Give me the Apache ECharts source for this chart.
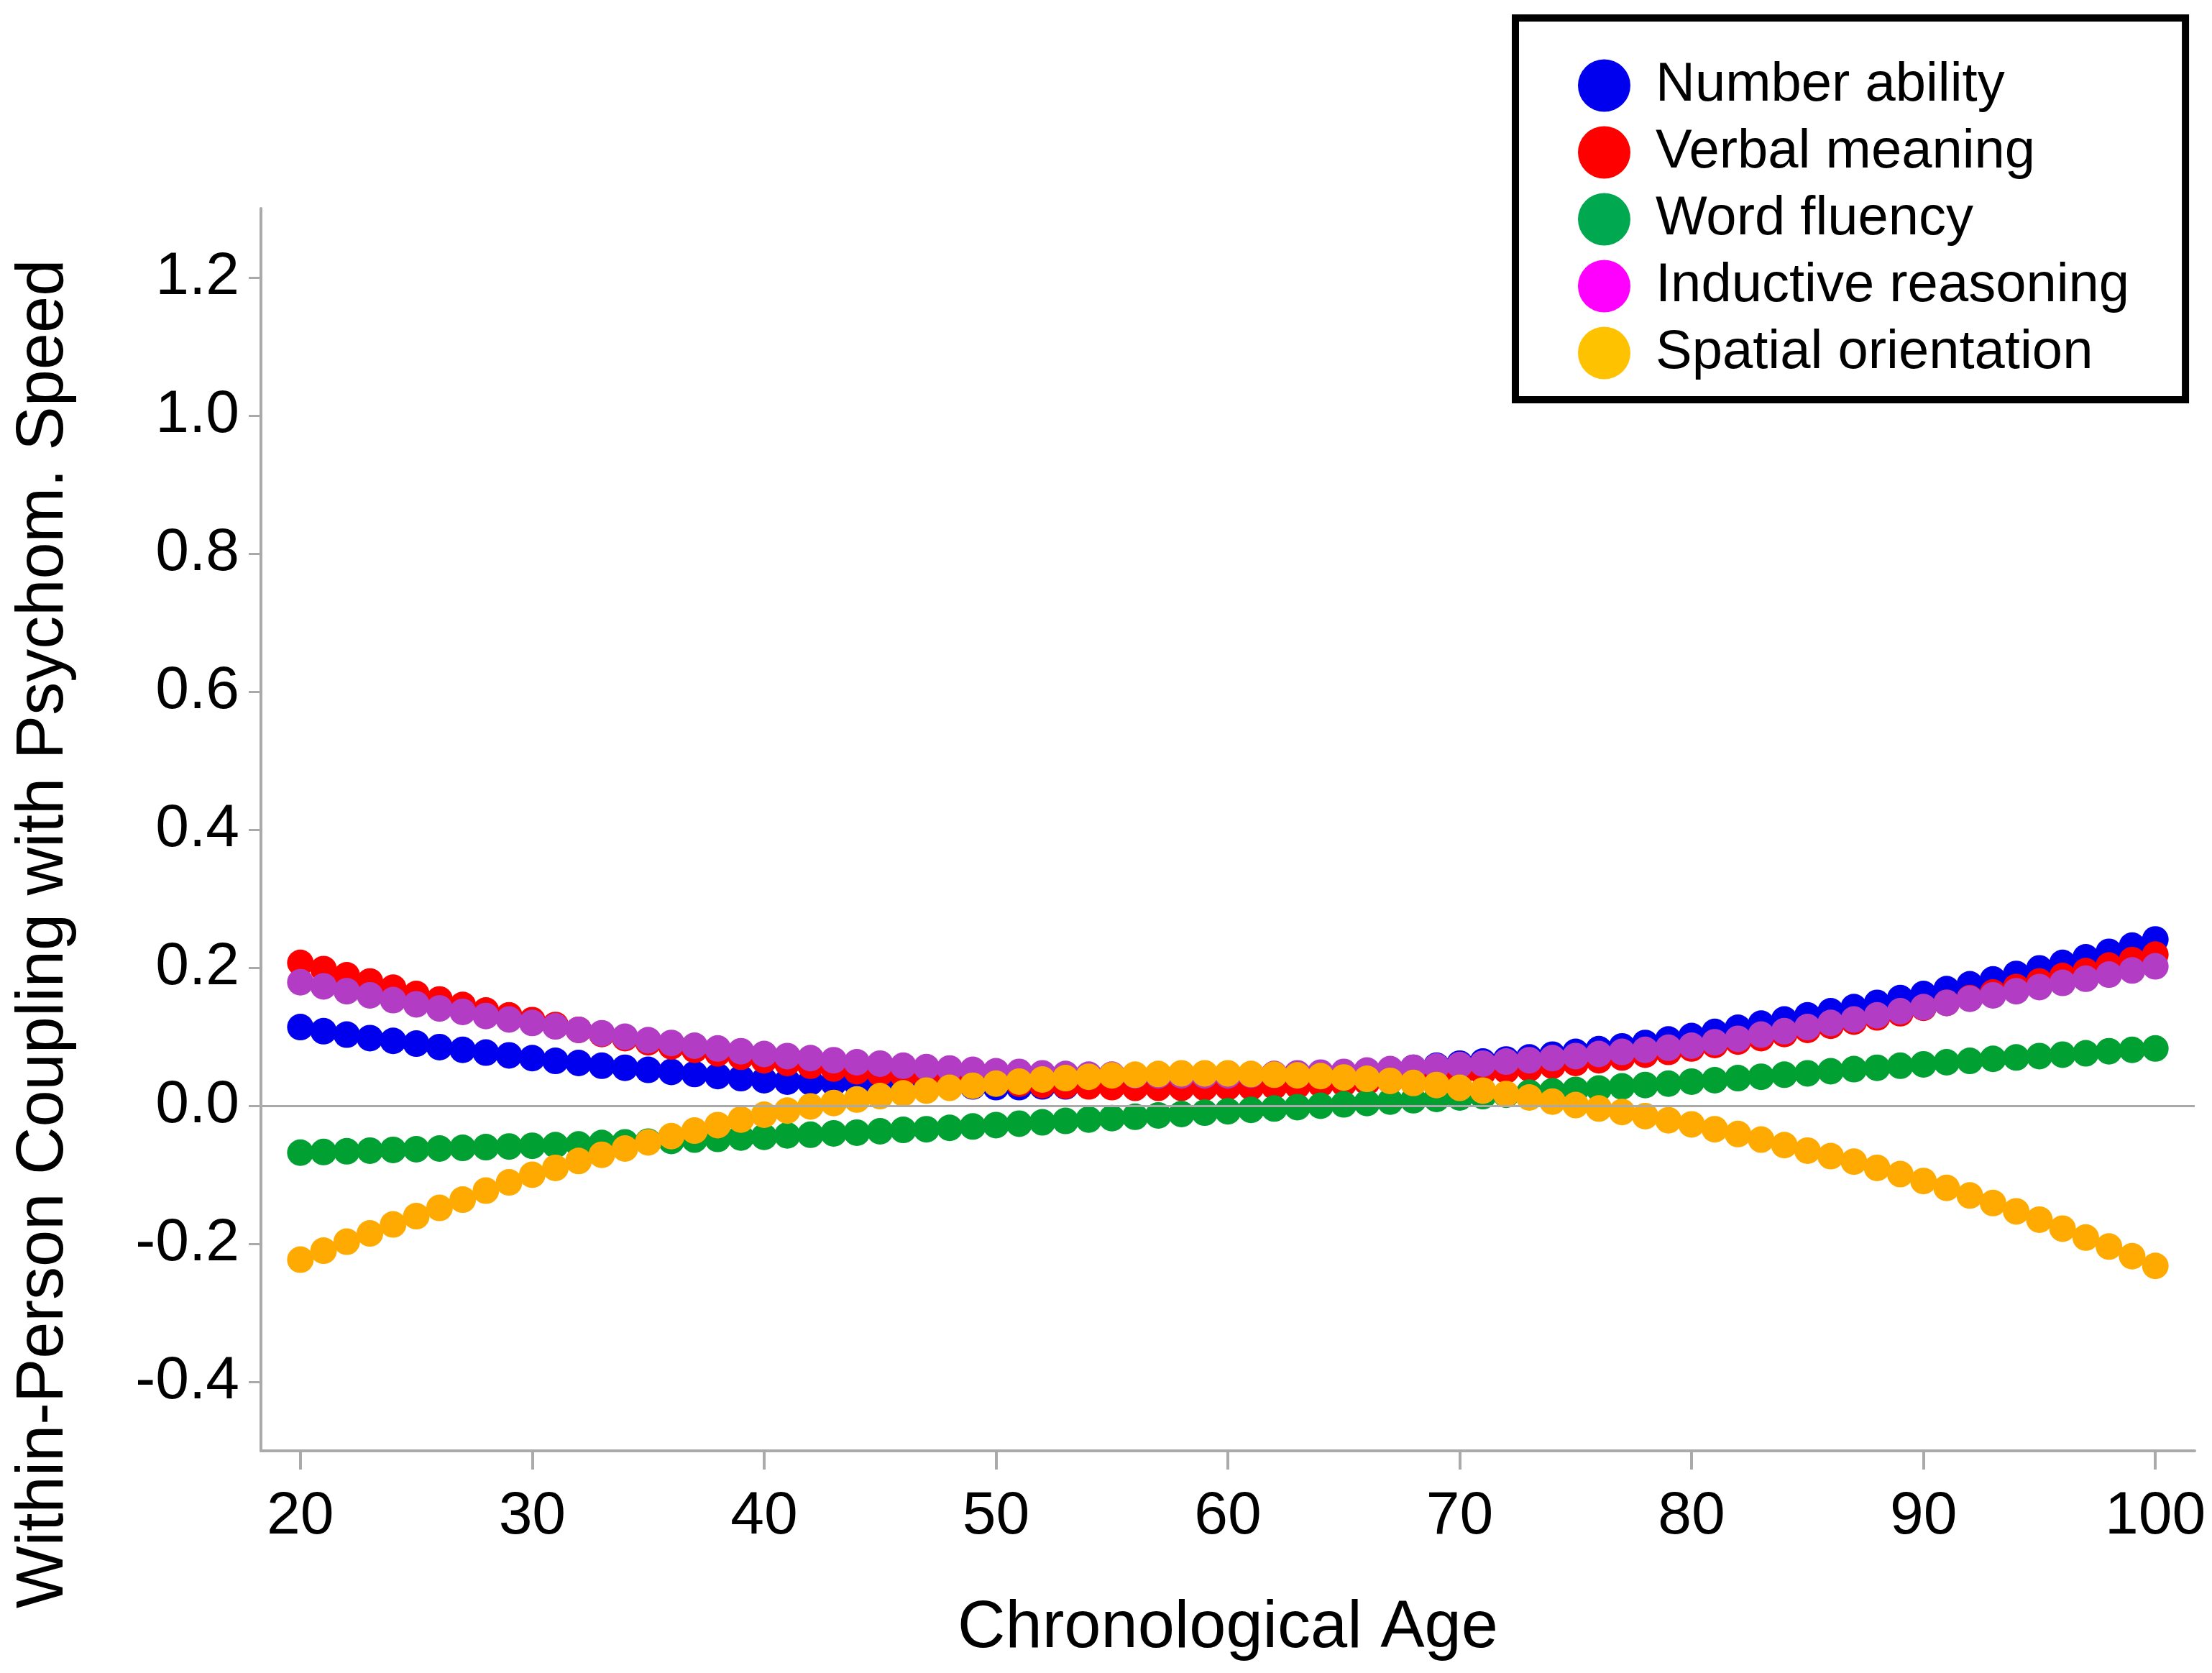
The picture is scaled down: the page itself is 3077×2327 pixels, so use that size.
<!DOCTYPE html>
<html>
<head>
<meta charset="utf-8">
<script src="https://cdn.jsdelivr.net/npm/echarts@6/dist/echarts.min.js"></script>
<style>
html,body{margin:0;padding:0;background:#ffffff;}
#c{width:3077px;height:2327px;}
</style>
</head>
<body>
<div id="c"></div>
<script>
// ---- Data ----
const ages = [20,21,22,23,24,25,26,27,28,29,30,31,32,33,34,35,36,37,38,39,40,41,42,43,44,45,46,47,48,49,50,51,52,53,54,55,56,57,58,59,60,61,62,63,64,65,66,67,68,69,70,71,72,73,74,75,76,77,78,79,80,81,82,83,84,85,86,87,88,89,90,91,92,93,94,95,96,97,98,99,100];

const seriesNames = ['Number ability','Verbal meaning','Word fluency','Inductive reasoning','Spatial orientation'];

const numberAbility = [
  0.114,0.108,0.103,0.098,0.094,0.090,0.085,0.081,0.077,0.073,
  0.069,0.065,0.062,0.058,0.055,0.052,0.049,0.046,0.043,0.040,
  0.037,0.035,0.034,0.033,0.032,0.031,0.030,0.029,0.028,0.028,
  0.027,0.027,0.028,0.028,0.029,0.030,0.031,0.032,0.033,0.035,
  0.037,0.039,0.041,0.043,0.045,0.047,0.050,0.052,0.055,0.058,
  0.061,0.064,0.067,0.070,0.074,0.078,0.082,0.086,0.091,0.096,
  0.101,0.107,0.113,0.119,0.125,0.131,0.137,0.143,0.149,0.156,
  0.162,0.169,0.176,0.183,0.191,0.199,0.207,0.215,0.223,0.232,
  0.241];

const verbalMeaning = [
  0.207,0.198,0.189,0.180,0.171,0.162,0.154,0.146,0.138,0.131,
  0.124,0.117,0.110,0.104,0.098,0.092,0.086,0.081,0.076,0.071,
  0.066,0.062,0.058,0.054,0.050,0.047,0.044,0.041,0.038,0.036,
  0.034,0.032,0.030,0.029,0.028,0.027,0.026,0.026,0.026,0.026,
  0.027,0.027,0.028,0.029,0.031,0.032,0.034,0.036,0.039,0.042,
  0.045,0.048,0.051,0.054,0.058,0.062,0.066,0.070,0.074,0.078,
  0.083,0.088,0.093,0.098,0.104,0.110,0.116,0.122,0.128,0.134,
  0.142,0.149,0.156,0.164,0.172,0.180,0.188,0.195,0.203,0.211,
  0.219];

const wordFluency = [
  -0.068,-0.067,-0.066,-0.065,-0.064,-0.063,-0.062,-0.061,-0.060,-0.059,
  -0.058,-0.057,-0.056,-0.054,-0.053,-0.052,-0.051,-0.049,-0.048,-0.046,
  -0.045,-0.043,-0.042,-0.040,-0.039,-0.037,-0.035,-0.034,-0.032,-0.030,
  -0.028,-0.026,-0.024,-0.022,-0.020,-0.018,-0.016,-0.014,-0.012,-0.010,
  -0.008,-0.006,-0.004,-0.002,0.000,0.002,0.004,0.006,0.008,0.010,
  0.012,0.014,0.016,0.019,0.021,0.023,0.025,0.028,0.030,0.032,
  0.035,0.037,0.040,0.042,0.045,0.047,0.050,0.053,0.055,0.058,
  0.060,0.063,0.065,0.068,0.070,0.072,0.074,0.076,0.079,0.081,
  0.083];

const inductiveReasoning = [
  0.179,0.173,0.166,0.160,0.153,0.147,0.141,0.136,0.130,0.125,
  0.120,0.115,0.110,0.105,0.100,0.095,0.091,0.087,0.083,0.079,
  0.075,0.072,0.069,0.066,0.063,0.061,0.058,0.056,0.054,0.052,
  0.050,0.049,0.047,0.046,0.045,0.045,0.044,0.044,0.044,0.044,
  0.044,0.045,0.046,0.047,0.048,0.049,0.051,0.053,0.055,0.057,
  0.059,0.061,0.064,0.066,0.069,0.072,0.075,0.078,0.081,0.084,
  0.087,0.092,0.097,0.103,0.108,0.114,0.120,0.125,0.131,0.137,
  0.143,0.149,0.155,0.160,0.166,0.172,0.178,0.184,0.190,0.196,
  0.202];

const spatialOrientation = [
  -0.223,-0.210,-0.197,-0.185,-0.172,-0.160,-0.148,-0.136,-0.123,-0.111,
  -0.100,-0.090,-0.080,-0.071,-0.062,-0.053,-0.044,-0.036,-0.028,-0.020,
  -0.013,-0.007,-0.001,0.004,0.009,0.014,0.018,0.022,0.026,0.029,
  0.032,0.035,0.038,0.040,0.042,0.044,0.045,0.046,0.047,0.047,
  0.047,0.046,0.045,0.044,0.043,0.041,0.039,0.036,0.033,0.030,
  0.026,0.022,0.017,0.012,0.006,0.001,-0.004,-0.009,-0.015,-0.021,
  -0.027,-0.034,-0.041,-0.049,-0.057,-0.065,-0.073,-0.081,-0.090,-0.099,
  -0.109,-0.119,-0.130,-0.141,-0.153,-0.165,-0.178,-0.191,-0.204,-0.218,
  -0.232];

const xTicks = [20,30,40,50,60,70,80,90,100];
const yTicks = [-0.4,-0.2,0.0,0.2,0.4,0.6,0.8,1.0,1.2];

// ---- Styles ----
const FONT = "'Liberation Sans', Arial, Helvetica, sans-serif";
const markColors = ['#0000ee','#ff0000','#00a032','#b23cc4','#ffaa00'];
const legendColors = ['#0000ee','#ff0000','#00a850','#ff00ff','#ffc200'];
const axisGray = '#aaaaaa';

const valueSets = [numberAbility, verbalMeaning, wordFluency, inductiveReasoning, spatialOrientation];

const scatterSeries = seriesNames.map((name, i) => ({
  name: name,
  type: 'scatter',
  z: 3,
  symbol: 'circle',
  symbolSize: 37,
  itemStyle: { color: markColors[i], opacity: 1 },
  emphasis: { disabled: true },
  data: ages.map((a, k) => [a, valueSets[i][k]])
}));

const zeroLineSeries = {
  name: 'zero',
  type: 'line',
  z: 1,
  data: [],
  silent: true,
  markLine: {
    silent: true,
    symbol: 'none',
    label: { show: false },
    lineStyle: { color: axisGray, width: 3, type: 'solid' },
    data: [{ yAxis: 0 }]
  }
};

const chart = echarts.init(document.getElementById('c'), null, { renderer: 'canvas' });

chart.setOption({
  animation: false,
  backgroundColor: '#ffffff',
  textStyle: { fontFamily: FONT },
  grid: { left: 363, top: 290, right: 24, bottom: 309, containLabel: false },
  legend: {
    orient: 'vertical',
    left: 2108,
    top: 25,
    selectedMode: false,
    icon: 'circle',
    itemWidth: 73,
    itemHeight: 73,
    itemGap: 17,
    padding: [56, 78, 27, 87],
    borderColor: '#000000',
    borderWidth: 10,
    backgroundColor: '#ffffff',
    textStyle: { fontFamily: FONT, fontSize: 76, color: '#000000', padding: [0, 0, 0, 30] },
    data: seriesNames.map((n, i) => ({ name: n, itemStyle: { color: legendColors[i] } }))
  },
  xAxis: {
    type: 'value',
    min: 18.3,
    max: 101.7,
    name: 'Chronological Age',
    nameLocation: 'middle',
    nameGap: 202,
    nameMoveOverlap: false,
    nameTextStyle: { fontFamily: FONT, fontSize: 92, color: '#000000' },
    splitLine: { show: false },
    axisLine: { show: true, onZero: false, lineStyle: { color: axisGray, width: 4 } },
    axisTick: { show: true, inside: false, length: 26, lineStyle: { color: axisGray, width: 4 }, customValues: xTicks },
    axisLabel: { show: true, fontFamily: FONT, fontSize: 84, color: '#000000', margin: 50, customValues: xTicks, formatter: v => String(v) }
  },
  yAxis: {
    type: 'value',
    min: -0.5,
    max: 1.3,
    name: 'Within-Person Coupling with Psychom. Speed',
    nameLocation: 'middle',
    nameRotate: 90,
    nameGap: 255,
    nameMoveOverlap: false,
    nameTextStyle: { fontFamily: FONT, fontSize: 92, color: '#000000', padding: [0, 290, 0, 0] },
    splitLine: { show: false },
    axisLine: { show: true, onZero: false, lineStyle: { color: axisGray, width: 4 } },
    axisTick: { show: true, inside: false, length: 17, lineStyle: { color: axisGray, width: 3 }, customValues: yTicks },
    axisLabel: { show: true, fontFamily: FONT, fontSize: 84, color: '#000000', margin: 30, customValues: yTicks, formatter: v => Number(v).toFixed(1) }
  },
  series: [zeroLineSeries].concat(scatterSeries)
});
</script>
</body>
</html>
